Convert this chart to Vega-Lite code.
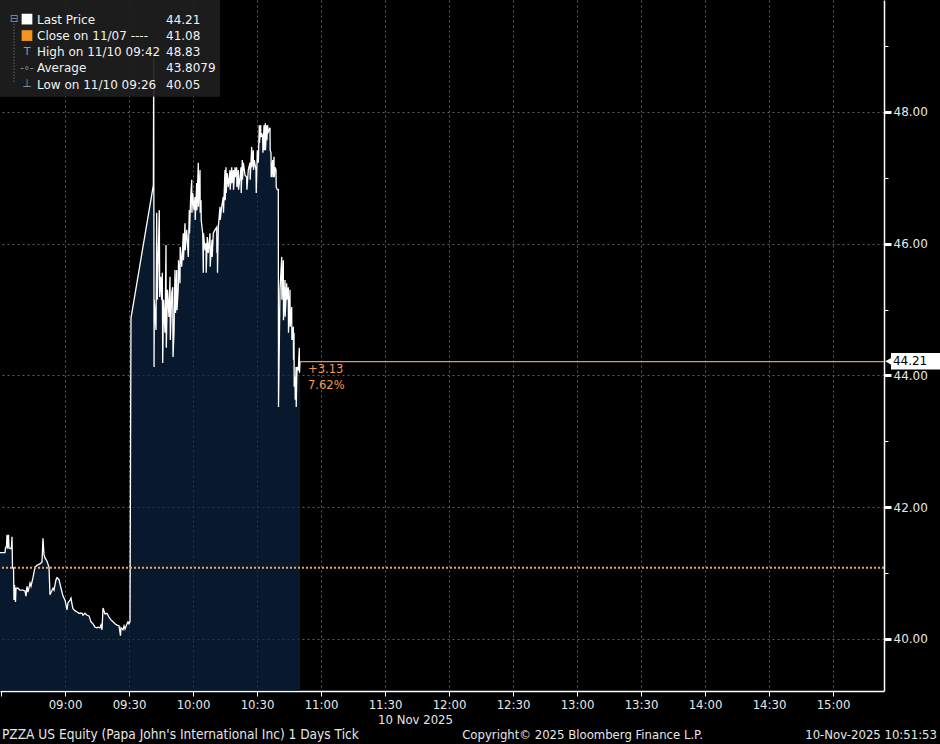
{
  "$schema": "https://vega.github.io/schema/vega-lite/v6.json",
  "width": 884,
  "height": 691,
  "autosize": {"type": "none"},
  "padding": {"left": 0, "top": 0, "right": 56, "bottom": 53},
  "background": "#000000",
  "config": {
    "view": {"stroke": null},
    "axis": {
      "domainColor": "#ffffff",
      "domainWidth": 1.5,
      "tickColor": "#ffffff",
      "labelColor": "#e6e6e6",
      "gridColor": "#5e5e5e",
      "gridDash": [2, 3],
      "zindex": 1
    }
  },
  "datasets": {
    "one": [{}],
    "price": [
      {"t": "2025-11-10T08:29:32", "p": 41.31},
      {"t": "2025-11-10T08:31:53", "p": 41.31},
      {"t": "2025-11-10T08:32:07", "p": 41.38},
      {"t": "2025-11-10T08:32:35", "p": 41.41},
      {"t": "2025-11-10T08:32:49", "p": 41.58},
      {"t": "2025-11-10T08:33:03", "p": 41.37},
      {"t": "2025-11-10T08:33:31", "p": 41.58},
      {"t": "2025-11-10T08:33:45", "p": 41.38},
      {"t": "2025-11-10T08:34:41", "p": 41.37},
      {"t": "2025-11-10T08:34:55", "p": 41.40},
      {"t": "2025-11-10T08:35:10", "p": 41.55},
      {"t": "2025-11-10T08:35:24", "p": 41.08},
      {"t": "2025-11-10T08:35:52", "p": 41.08},
      {"t": "2025-11-10T08:36:06", "p": 40.59},
      {"t": "2025-11-10T08:36:20", "p": 40.82},
      {"t": "2025-11-10T08:36:48", "p": 40.56},
      {"t": "2025-11-10T08:37:02", "p": 40.77},
      {"t": "2025-11-10T08:37:58", "p": 40.77},
      {"t": "2025-11-10T08:38:55", "p": 40.74},
      {"t": "2025-11-10T08:40:19", "p": 40.74},
      {"t": "2025-11-10T08:41:15", "p": 40.73},
      {"t": "2025-11-10T08:41:43", "p": 40.65},
      {"t": "2025-11-10T08:42:11", "p": 40.80},
      {"t": "2025-11-10T08:42:40", "p": 40.71},
      {"t": "2025-11-10T08:43:36", "p": 40.85},
      {"t": "2025-11-10T08:44:04", "p": 40.80},
      {"t": "2025-11-10T08:45:00", "p": 40.93},
      {"t": "2025-11-10T08:45:56", "p": 41.09},
      {"t": "2025-11-10T08:46:53", "p": 41.12},
      {"t": "2025-11-10T08:48:17", "p": 41.14},
      {"t": "2025-11-10T08:49:13", "p": 41.17},
      {"t": "2025-11-10T08:49:41", "p": 41.53},
      {"t": "2025-11-10T08:50:10", "p": 41.28},
      {"t": "2025-11-10T08:50:38", "p": 41.23},
      {"t": "2025-11-10T08:51:34", "p": 41.18},
      {"t": "2025-11-10T08:52:30", "p": 41.09},
      {"t": "2025-11-10T08:52:58", "p": 40.67},
      {"t": "2025-11-10T08:53:55", "p": 40.74},
      {"t": "2025-11-10T08:54:23", "p": 40.77},
      {"t": "2025-11-10T08:54:51", "p": 40.74},
      {"t": "2025-11-10T08:55:47", "p": 40.90},
      {"t": "2025-11-10T08:56:15", "p": 40.93},
      {"t": "2025-11-10T08:57:11", "p": 40.90},
      {"t": "2025-11-10T08:58:08", "p": 40.77},
      {"t": "2025-11-10T08:59:04", "p": 40.65},
      {"t": "2025-11-10T09:00:00", "p": 40.59},
      {"t": "2025-11-10T09:00:28", "p": 40.52},
      {"t": "2025-11-10T09:00:56", "p": 40.44},
      {"t": "2025-11-10T09:01:25", "p": 40.55},
      {"t": "2025-11-10T09:02:21", "p": 40.59},
      {"t": "2025-11-10T09:02:49", "p": 40.62},
      {"t": "2025-11-10T09:03:17", "p": 40.53},
      {"t": "2025-11-10T09:03:45", "p": 40.46},
      {"t": "2025-11-10T09:04:41", "p": 40.43},
      {"t": "2025-11-10T09:05:38", "p": 40.41},
      {"t": "2025-11-10T09:06:34", "p": 40.39},
      {"t": "2025-11-10T09:07:58", "p": 40.39},
      {"t": "2025-11-10T09:08:26", "p": 40.36},
      {"t": "2025-11-10T09:09:23", "p": 40.39},
      {"t": "2025-11-10T09:10:19", "p": 40.36},
      {"t": "2025-11-10T09:11:15", "p": 40.35},
      {"t": "2025-11-10T09:12:11", "p": 40.26},
      {"t": "2025-11-10T09:13:08", "p": 40.23},
      {"t": "2025-11-10T09:14:04", "p": 40.18},
      {"t": "2025-11-10T09:15:00", "p": 40.17},
      {"t": "2025-11-10T09:15:28", "p": 40.18},
      {"t": "2025-11-10T09:16:25", "p": 40.17},
      {"t": "2025-11-10T09:16:53", "p": 40.21},
      {"t": "2025-11-10T09:17:21", "p": 40.14},
      {"t": "2025-11-10T09:17:49", "p": 40.47},
      {"t": "2025-11-10T09:18:45", "p": 40.38},
      {"t": "2025-11-10T09:19:41", "p": 40.39},
      {"t": "2025-11-10T09:20:38", "p": 40.33},
      {"t": "2025-11-10T09:21:34", "p": 40.29},
      {"t": "2025-11-10T09:22:30", "p": 40.26},
      {"t": "2025-11-10T09:23:26", "p": 40.23},
      {"t": "2025-11-10T09:24:23", "p": 40.21},
      {"t": "2025-11-10T09:25:19", "p": 40.20},
      {"t": "2025-11-10T09:26:00", "p": 40.05},
      {"t": "2025-11-10T09:26:15", "p": 40.17},
      {"t": "2025-11-10T09:27:11", "p": 40.14},
      {"t": "2025-11-10T09:27:40", "p": 40.20},
      {"t": "2025-11-10T09:28:08", "p": 40.15},
      {"t": "2025-11-10T09:29:04", "p": 40.23},
      {"t": "2025-11-10T09:29:32", "p": 40.26},
      {"t": "2025-11-10T09:30:00", "p": 40.23},
      {"t": "2025-11-10T09:30:28", "p": 40.26},
      {"t": "2025-11-10T09:30:56", "p": 44.87},
      {"t": "2025-11-10T09:41:25", "p": 46.89},
      {"t": "2025-11-10T09:41:35", "p": 48.83},
      {"t": "2025-11-10T09:41:45", "p": 44.13},
      {"t": "2025-11-10T09:41:52", "p": 45.15},
      {"t": "2025-11-10T09:42:40", "p": 44.69},
      {"t": "2025-11-10T09:42:59", "p": 46.47},
      {"t": "2025-11-10T09:43:16", "p": 45.15},
      {"t": "2025-11-10T09:44:12", "p": 46.51},
      {"t": "2025-11-10T09:44:24", "p": 45.19},
      {"t": "2025-11-10T09:44:52", "p": 45.50},
      {"t": "2025-11-10T09:45:20", "p": 45.15},
      {"t": "2025-11-10T09:45:37", "p": 45.56},
      {"t": "2025-11-10T09:45:48", "p": 44.19},
      {"t": "2025-11-10T09:46:11", "p": 45.15},
      {"t": "2025-11-10T09:46:53", "p": 44.65},
      {"t": "2025-11-10T09:47:21", "p": 45.98},
      {"t": "2025-11-10T09:47:29", "p": 44.42},
      {"t": "2025-11-10T09:48:03", "p": 45.30},
      {"t": "2025-11-10T09:48:45", "p": 44.89},
      {"t": "2025-11-10T09:49:13", "p": 45.50},
      {"t": "2025-11-10T09:49:22", "p": 44.54},
      {"t": "2025-11-10T09:50:01", "p": 45.25},
      {"t": "2025-11-10T09:50:29", "p": 45.34},
      {"t": "2025-11-10T09:50:38", "p": 44.28},
      {"t": "2025-11-10T09:51:06", "p": 44.65},
      {"t": "2025-11-10T09:51:34", "p": 45.60},
      {"t": "2025-11-10T09:51:48", "p": 44.95},
      {"t": "2025-11-10T09:52:22", "p": 45.60},
      {"t": "2025-11-10T09:52:30", "p": 44.99},
      {"t": "2025-11-10T09:53:07", "p": 45.34},
      {"t": "2025-11-10T09:53:12", "p": 45.75},
      {"t": "2025-11-10T09:53:55", "p": 45.40},
      {"t": "2025-11-10T09:54:00", "p": 45.95},
      {"t": "2025-11-10T09:54:42", "p": 45.65},
      {"t": "2025-11-10T09:55:27", "p": 46.16},
      {"t": "2025-11-10T09:55:33", "p": 45.75},
      {"t": "2025-11-10T09:56:15", "p": 46.31},
      {"t": "2025-11-10T09:56:21", "p": 45.90},
      {"t": "2025-11-10T09:57:03", "p": 46.21},
      {"t": "2025-11-10T09:57:48", "p": 45.80},
      {"t": "2025-11-10T09:58:16", "p": 46.51},
      {"t": "2025-11-10T09:58:22", "p": 46.16},
      {"t": "2025-11-10T09:58:55", "p": 46.71},
      {"t": "2025-11-10T09:59:24", "p": 46.97},
      {"t": "2025-11-10T09:59:29", "p": 46.47},
      {"t": "2025-11-10T09:59:52", "p": 46.77},
      {"t": "2025-11-10T10:00:28", "p": 46.51},
      {"t": "2025-11-10T10:00:56", "p": 46.71},
      {"t": "2025-11-10T10:01:02", "p": 46.36},
      {"t": "2025-11-10T10:01:44", "p": 46.92},
      {"t": "2025-11-10T10:01:50", "p": 46.51},
      {"t": "2025-11-10T10:02:29", "p": 47.23},
      {"t": "2025-11-10T10:02:35", "p": 46.56},
      {"t": "2025-11-10T10:03:17", "p": 47.12},
      {"t": "2025-11-10T10:03:23", "p": 46.47},
      {"t": "2025-11-10T10:03:45", "p": 46.66},
      {"t": "2025-11-10T10:03:51", "p": 46.36},
      {"t": "2025-11-10T10:04:33", "p": 46.16},
      {"t": "2025-11-10T10:04:50", "p": 45.56},
      {"t": "2025-11-10T10:04:55", "p": 46.16},
      {"t": "2025-11-10T10:05:38", "p": 45.90},
      {"t": "2025-11-10T10:06:06", "p": 46.01},
      {"t": "2025-11-10T10:06:11", "p": 45.56},
      {"t": "2025-11-10T10:06:42", "p": 46.10},
      {"t": "2025-11-10T10:07:10", "p": 45.86},
      {"t": "2025-11-10T10:07:58", "p": 46.16},
      {"t": "2025-11-10T10:08:04", "p": 45.65},
      {"t": "2025-11-10T10:08:26", "p": 45.86},
      {"t": "2025-11-10T10:08:55", "p": 46.06},
      {"t": "2025-11-10T10:09:00", "p": 45.80},
      {"t": "2025-11-10T10:09:31", "p": 46.16},
      {"t": "2025-11-10T10:10:19", "p": 46.21},
      {"t": "2025-11-10T10:11:07", "p": 46.25},
      {"t": "2025-11-10T10:11:12", "p": 45.86},
      {"t": "2025-11-10T10:11:24", "p": 46.06},
      {"t": "2025-11-10T10:11:29", "p": 45.56},
      {"t": "2025-11-10T10:11:52", "p": 46.25},
      {"t": "2025-11-10T10:12:40", "p": 46.56},
      {"t": "2025-11-10T10:12:45", "p": 46.36},
      {"t": "2025-11-10T10:13:27", "p": 46.56},
      {"t": "2025-11-10T10:14:12", "p": 46.71},
      {"t": "2025-11-10T10:14:18", "p": 46.47},
      {"t": "2025-11-10T10:15:00", "p": 47.12},
      {"t": "2025-11-10T10:15:06", "p": 46.66},
      {"t": "2025-11-10T10:15:28", "p": 47.16},
      {"t": "2025-11-10T10:15:34", "p": 46.77},
      {"t": "2025-11-10T10:16:05", "p": 47.07},
      {"t": "2025-11-10T10:16:33", "p": 46.86},
      {"t": "2025-11-10T10:17:21", "p": 47.12},
      {"t": "2025-11-10T10:17:26", "p": 46.82},
      {"t": "2025-11-10T10:18:09", "p": 47.16},
      {"t": "2025-11-10T10:18:14", "p": 46.92},
      {"t": "2025-11-10T10:18:54", "p": 47.12},
      {"t": "2025-11-10T10:18:59", "p": 46.82},
      {"t": "2025-11-10T10:19:41", "p": 47.16},
      {"t": "2025-11-10T10:19:47", "p": 47.01},
      {"t": "2025-11-10T10:20:29", "p": 47.16},
      {"t": "2025-11-10T10:20:35", "p": 46.86},
      {"t": "2025-11-10T10:21:14", "p": 47.12},
      {"t": "2025-11-10T10:21:20", "p": 46.82},
      {"t": "2025-11-10T10:22:02", "p": 47.01},
      {"t": "2025-11-10T10:22:30", "p": 47.16},
      {"t": "2025-11-10T10:22:36", "p": 46.77},
      {"t": "2025-11-10T10:23:07", "p": 47.27},
      {"t": "2025-11-10T10:23:12", "p": 46.97},
      {"t": "2025-11-10T10:23:35", "p": 47.23},
      {"t": "2025-11-10T10:24:23", "p": 47.04},
      {"t": "2025-11-10T10:25:10", "p": 47.01},
      {"t": "2025-11-10T10:25:16", "p": 46.82},
      {"t": "2025-11-10T10:25:55", "p": 47.12},
      {"t": "2025-11-10T10:26:43", "p": 47.23},
      {"t": "2025-11-10T10:26:49", "p": 46.97},
      {"t": "2025-11-10T10:27:31", "p": 47.47},
      {"t": "2025-11-10T10:27:37", "p": 47.16},
      {"t": "2025-11-10T10:28:16", "p": 47.42},
      {"t": "2025-11-10T10:28:22", "p": 47.12},
      {"t": "2025-11-10T10:28:44", "p": 47.27},
      {"t": "2025-11-10T10:29:32", "p": 47.12},
      {"t": "2025-11-10T10:29:38", "p": 46.77},
      {"t": "2025-11-10T10:30:09", "p": 47.42},
      {"t": "2025-11-10T10:30:37", "p": 47.23},
      {"t": "2025-11-10T10:31:05", "p": 47.80},
      {"t": "2025-11-10T10:31:10", "p": 47.53},
      {"t": "2025-11-10T10:31:44", "p": 47.80},
      {"t": "2025-11-10T10:31:50", "p": 47.62},
      {"t": "2025-11-10T10:32:12", "p": 47.68},
      {"t": "2025-11-10T10:32:40", "p": 47.62},
      {"t": "2025-11-10T10:32:46", "p": 47.38},
      {"t": "2025-11-10T10:33:17", "p": 47.80},
      {"t": "2025-11-10T10:33:23", "p": 47.42},
      {"t": "2025-11-10T10:33:54", "p": 47.83},
      {"t": "2025-11-10T10:33:59", "p": 47.42},
      {"t": "2025-11-10T10:34:33", "p": 47.80},
      {"t": "2025-11-10T10:34:39", "p": 47.57},
      {"t": "2025-11-10T10:35:01", "p": 47.80},
      {"t": "2025-11-10T10:35:10", "p": 47.68},
      {"t": "2025-11-10T10:35:38", "p": 47.73},
      {"t": "2025-11-10T10:36:06", "p": 47.76},
      {"t": "2025-11-10T10:36:11", "p": 47.42},
      {"t": "2025-11-10T10:36:34", "p": 47.38},
      {"t": "2025-11-10T10:36:40", "p": 47.01},
      {"t": "2025-11-10T10:37:22", "p": 47.27},
      {"t": "2025-11-10T10:37:27", "p": 47.01},
      {"t": "2025-11-10T10:37:58", "p": 47.32},
      {"t": "2025-11-10T10:38:04", "p": 47.01},
      {"t": "2025-11-10T10:38:26", "p": 47.16},
      {"t": "2025-11-10T10:38:55", "p": 47.12},
      {"t": "2025-11-10T10:39:00", "p": 46.86},
      {"t": "2025-11-10T10:39:31", "p": 46.82},
      {"t": "2025-11-10T10:39:59", "p": 46.82},
      {"t": "2025-11-10T10:40:05", "p": 43.52},
      {"t": "2025-11-10T10:40:47", "p": 45.30},
      {"t": "2025-11-10T10:41:35", "p": 45.80},
      {"t": "2025-11-10T10:41:40", "p": 45.15},
      {"t": "2025-11-10T10:42:20", "p": 45.75},
      {"t": "2025-11-10T10:42:25", "p": 44.84},
      {"t": "2025-11-10T10:43:08", "p": 45.45},
      {"t": "2025-11-10T10:43:13", "p": 44.89},
      {"t": "2025-11-10T10:43:55", "p": 45.40},
      {"t": "2025-11-10T10:44:01", "p": 45.15},
      {"t": "2025-11-10T10:44:40", "p": 45.34},
      {"t": "2025-11-10T10:44:46", "p": 44.65},
      {"t": "2025-11-10T10:45:28", "p": 45.30},
      {"t": "2025-11-10T10:45:34", "p": 44.74},
      {"t": "2025-11-10T10:46:16", "p": 45.04},
      {"t": "2025-11-10T10:46:22", "p": 44.54},
      {"t": "2025-11-10T10:47:01", "p": 44.74},
      {"t": "2025-11-10T10:47:07", "p": 44.24},
      {"t": "2025-11-10T10:47:21", "p": 44.65},
      {"t": "2025-11-10T10:47:26", "p": 43.83},
      {"t": "2025-11-10T10:47:49", "p": 43.98},
      {"t": "2025-11-10T10:47:55", "p": 43.63},
      {"t": "2025-11-10T10:48:17", "p": 44.13},
      {"t": "2025-11-10T10:48:23", "p": 43.52},
      {"t": "2025-11-10T10:48:37", "p": 43.93},
      {"t": "2025-11-10T10:48:45", "p": 44.13},
      {"t": "2025-11-10T10:49:22", "p": 44.08},
      {"t": "2025-11-10T10:49:50", "p": 44.42},
      {"t": "2025-11-10T10:49:55", "p": 44.04},
      {"t": "2025-11-10T10:50:10", "p": 44.21}
    ]
  },
  "layer": [
    {
      "data": {"name": "price"},
      "mark": {"type": "area", "clip": true, "color": "#0b2240", "line": {"color": "#ffffff", "strokeWidth": 1.3}, "interpolate": "linear"},
      "encoding": {
        "x": {
          "field": "t",
          "type": "temporal",
          "scale": {
            "nice": false,
            "domain": [
              {"year": 2025, "month": 11, "date": 10, "hours": 8, "minutes": 29, "seconds": 32},
              {"year": 2025, "month": 11, "date": 10, "hours": 15, "minutes": 23, "seconds": 54}
            ]
          },
          "axis": {
            "title": "10 Nov 2025",
            "titleFont": "Liberation Sans Narrow, DejaVu Sans Condensed, Liberation Sans",
            "titleFontSize": 13,
            "titleFontWeight": "normal",
            "titleColor": "#e6e6e6",
            "titleX": 415,
            "titleY": 22,
            "titleBaseline": "top",
            "titleAlign": "center",
            "labelFont": "Liberation Sans Narrow, DejaVu Sans Condensed, Liberation Sans",
            "labelFontSize": 13,
            "labelPadding": 2,
            "labelOverlap": false,
            "labelFlush": false,
            "tickSize": 5,
            "tickWidth": 1,
            "values": [
              {"year": 2025, "month": 11, "date": 10, "hours": 8, "minutes": 30},
              {"year": 2025, "month": 11, "date": 10, "hours": 8, "minutes": 45},
              {"year": 2025, "month": 11, "date": 10, "hours": 9, "minutes": 0},
              {"year": 2025, "month": 11, "date": 10, "hours": 9, "minutes": 15},
              {"year": 2025, "month": 11, "date": 10, "hours": 9, "minutes": 30},
              {"year": 2025, "month": 11, "date": 10, "hours": 9, "minutes": 45},
              {"year": 2025, "month": 11, "date": 10, "hours": 10, "minutes": 0},
              {"year": 2025, "month": 11, "date": 10, "hours": 10, "minutes": 15},
              {"year": 2025, "month": 11, "date": 10, "hours": 10, "minutes": 30},
              {"year": 2025, "month": 11, "date": 10, "hours": 10, "minutes": 45},
              {"year": 2025, "month": 11, "date": 10, "hours": 11, "minutes": 0},
              {"year": 2025, "month": 11, "date": 10, "hours": 11, "minutes": 15},
              {"year": 2025, "month": 11, "date": 10, "hours": 11, "minutes": 30},
              {"year": 2025, "month": 11, "date": 10, "hours": 11, "minutes": 45},
              {"year": 2025, "month": 11, "date": 10, "hours": 12, "minutes": 0},
              {"year": 2025, "month": 11, "date": 10, "hours": 12, "minutes": 15},
              {"year": 2025, "month": 11, "date": 10, "hours": 12, "minutes": 30},
              {"year": 2025, "month": 11, "date": 10, "hours": 12, "minutes": 45},
              {"year": 2025, "month": 11, "date": 10, "hours": 13, "minutes": 0},
              {"year": 2025, "month": 11, "date": 10, "hours": 13, "minutes": 15},
              {"year": 2025, "month": 11, "date": 10, "hours": 13, "minutes": 30},
              {"year": 2025, "month": 11, "date": 10, "hours": 13, "minutes": 45},
              {"year": 2025, "month": 11, "date": 10, "hours": 14, "minutes": 0},
              {"year": 2025, "month": 11, "date": 10, "hours": 14, "minutes": 15},
              {"year": 2025, "month": 11, "date": 10, "hours": 14, "minutes": 30},
              {"year": 2025, "month": 11, "date": 10, "hours": 14, "minutes": 45},
              {"year": 2025, "month": 11, "date": 10, "hours": 15, "minutes": 0},
              {"year": 2025, "month": 11, "date": 10, "hours": 15, "minutes": 15}
            ],
            "labelExpr": "(minutes(datum.value) % 30 === 0 && hours(datum.value) >= 9) ? timeFormat(datum.value, '%H:%M') : ''",
            "gridOpacity": {"condition": {"test": "minutes(datum.value) % 30 === 0 && hours(datum.value) >= 9", "value": 1}, "value": 0}
          }
        },
        "y": {
          "field": "p",
          "type": "quantitative",
          "scale": {"domain": [39.21, 49.7], "zero": false, "nice": false},
          "axis": {
            "orient": "right",
            "title": null,
            "values": [40, 41, 42, 43, 44, 45, 46, 47, 48, 49],
            "labelExpr": "datum.value % 2 === 0 ? format(datum.value, '.2f') : ''",
            "labelFont": "DejaVu Sans",
            "labelFontSize": 12,
            "labelPadding": 2,
            "labelBaseline": "middle",
            "tickSize": {"condition": {"test": "datum.value % 2 === 0", "value": 7}, "value": 4},
            "tickWidth": {"condition": {"test": "datum.value % 2 === 0", "value": 3}, "value": 1},
            "gridOpacity": {"condition": {"test": "datum.value % 2 === 0", "value": 1}, "value": 0}
          }
        }
      }
    },
    {
      "data": {"name": "one"},
      "mark": {"type": "rule", "color": "#f2a36b", "strokeWidth": 2, "strokeDash": [2, 2]},
      "encoding": {"y": {"datum": 41.08, "type": "quantitative"}}
    },
    {
      "data": {"name": "one"},
      "mark": {"type": "rule", "color": "#e8956a", "strokeWidth": 1.2},
      "encoding": {
        "x": {"datum": {"year": 2025, "month": 11, "date": 10, "hours": 10, "minutes": 50, "seconds": 10}, "type": "temporal"},
        "x2": {"datum": {"year": 2025, "month": 11, "date": 10, "hours": 15, "minutes": 23, "seconds": 54}},
        "y": {"datum": 44.21, "type": "quantitative"}
      }
    },
    {
      "data": {"name": "one"},
      "mark": {"type": "text", "text": ["+3.13", "7.62%"], "lineHeight": 16, "align": "left", "baseline": "top", "dx": 8, "dy": 2, "color": "#f39a52", "font": "DejaVu Sans", "fontSize": 11.5},
      "encoding": {
        "x": {"datum": {"year": 2025, "month": 11, "date": 10, "hours": 10, "minutes": 50, "seconds": 10}, "type": "temporal"},
        "y": {"datum": 44.21, "type": "quantitative"}
      }
    },
    {
      "data": {"name": "one"},
      "mark": {"type": "rect", "color": "#1e1e1e", "opacity": 0.92},
      "encoding": {
        "x": {"datum": {"year": 2025, "month": 11, "date": 10, "hours": 8, "minutes": 29, "seconds": 32}, "type": "temporal"},
        "x2": {"datum": {"year": 2025, "month": 11, "date": 10, "hours": 10, "minutes": 12, "seconds": 40}},
        "y": {"datum": 49.7, "type": "quantitative"},
        "y2": {"datum": 48.23}
      }
    },
    {
      "data": {"name": "one"},
      "mark": {"type": "rule", "color": "#8a8a8a", "strokeWidth": 1, "strokeDash": [1, 2]},
      "encoding": {
        "x": {"datum": {"year": 2025, "month": 11, "date": 10, "hours": 8, "minutes": 36, "seconds": 6}, "type": "temporal"},
        "y": {"datum": 49.34, "type": "quantitative"},
        "y2": {"datum": 48.43}
      }
    },
    {
      "data": {"name": "one"},
      "mark": {"type": "text", "text": "⊟", "color": "#9a9a9a", "font": "DejaVu Sans", "fontSize": 10, "align": "center", "baseline": "middle"},
      "encoding": {
        "x": {"datum": {"year": 2025, "month": 11, "date": 10, "hours": 8, "minutes": 36, "seconds": 6}, "type": "temporal"},
        "y": {"datum": 49.41, "type": "quantitative"}
      }
    },
    {
      "data": {"name": "one"},
      "mark": {"type": "point", "shape": "square", "filled": true, "size": 115, "opacity": 1, "color": "#ffffff"},
      "encoding": {
        "x": {"datum": {"year": 2025, "month": 11, "date": 10, "hours": 8, "minutes": 42, "seconds": 11}, "type": "temporal"},
        "y": {"datum": 49.41, "type": "quantitative"}
      }
    },
    {
      "data": {"name": "one"},
      "mark": {"type": "point", "shape": "square", "filled": true, "size": 115, "opacity": 1, "color": "#f5951f"},
      "encoding": {
        "x": {"datum": {"year": 2025, "month": 11, "date": 10, "hours": 8, "minutes": 42, "seconds": 11}, "type": "temporal"},
        "y": {"datum": 49.16, "type": "quantitative"}
      }
    },
    {
      "data": {"name": "one"},
      "mark": {"type": "text", "text": "T", "align": "center", "baseline": "middle", "color": "#9a9a9a", "font": "DejaVu Sans", "fontSize": 11},
      "encoding": {
        "x": {"datum": {"year": 2025, "month": 11, "date": 10, "hours": 8, "minutes": 42, "seconds": 11}, "type": "temporal"},
        "y": {"datum": 48.91, "type": "quantitative"}
      }
    },
    {
      "data": {"name": "one"},
      "mark": {"type": "text", "text": "-∘-", "align": "center", "baseline": "middle", "color": "#9a9a9a", "font": "DejaVu Sans", "fontSize": 10},
      "encoding": {
        "x": {"datum": {"year": 2025, "month": 11, "date": 10, "hours": 8, "minutes": 42, "seconds": 11}, "type": "temporal"},
        "y": {"datum": 48.67, "type": "quantitative"}
      }
    },
    {
      "data": {"name": "one"},
      "mark": {"type": "text", "text": "⊥", "align": "center", "baseline": "middle", "color": "#9a9a9a", "font": "DejaVu Sans", "fontSize": 11},
      "encoding": {
        "x": {"datum": {"year": 2025, "month": 11, "date": 10, "hours": 8, "minutes": 42, "seconds": 11}, "type": "temporal"},
        "y": {"datum": 48.42, "type": "quantitative"}
      }
    },
    {
      "data": {"name": "one"},
      "mark": {"type": "text", "text": ["Last Price", "Close on 11/07 ----", "High on 11/10 09:42", "Average", "Low on 11/10 09:26"], "lineHeight": 16.3, "align": "left", "baseline": "alphabetic", "color": "#f2f2f2", "font": "DejaVu Sans", "fontSize": 12},
      "encoding": {
        "x": {"datum": {"year": 2025, "month": 11, "date": 10, "hours": 8, "minutes": 46, "seconds": 53}, "type": "temporal"},
        "y": {"datum": 49.343, "type": "quantitative"}
      }
    },
    {
      "data": {"name": "one"},
      "mark": {"type": "text", "text": ["44.21", "41.08", "48.83", "43.8079", "40.05"], "lineHeight": 16.3, "align": "left", "baseline": "alphabetic", "color": "#f2f2f2", "font": "DejaVu Sans", "fontSize": 12},
      "encoding": {
        "x": {"datum": {"year": 2025, "month": 11, "date": 10, "hours": 9, "minutes": 47, "seconds": 21}, "type": "temporal"},
        "y": {"datum": 49.343, "type": "quantitative"}
      }
    },
    {
      "data": {"name": "one"},
      "mark": {"type": "rect", "color": "#ffffff"},
      "encoding": {
        "x": {"datum": {"year": 2025, "month": 11, "date": 10, "hours": 15, "minutes": 27, "seconds": 11}, "type": "temporal"},
        "x2": {"datum": {"year": 2025, "month": 11, "date": 10, "hours": 15, "minutes": 50, "seconds": 10}},
        "y": {"datum": 44.34, "type": "quantitative"},
        "y2": {"datum": 44.09}
      }
    },
    {
      "data": {"name": "one"},
      "mark": {"type": "point", "shape": "triangle-left", "filled": true, "size": 70, "opacity": 1, "color": "#ffffff"},
      "encoding": {
        "x": {"datum": {"year": 2025, "month": 11, "date": 10, "hours": 15, "minutes": 26, "seconds": 10}, "type": "temporal"},
        "y": {"datum": 44.215, "type": "quantitative"}
      }
    },
    {
      "data": {"name": "one"},
      "mark": {"type": "text", "text": "44.21", "align": "left", "baseline": "middle", "color": "#000000", "font": "DejaVu Sans", "fontSize": 12},
      "encoding": {
        "x": {"datum": {"year": 2025, "month": 11, "date": 10, "hours": 15, "minutes": 28, "seconds": 4}, "type": "temporal"},
        "y": {"datum": 44.215, "type": "quantitative"}
      }
    },
    {
      "data": {"name": "one"},
      "mark": {"type": "text", "text": "PZZA US Equity (Papa John's International Inc) 1 Days Tick", "align": "left", "baseline": "middle", "color": "#e6e6e6", "font": "Liberation Sans Narrow, DejaVu Sans Condensed, Liberation Sans", "fontSize": 13.6},
      "encoding": {
        "x": {"datum": {"year": 2025, "month": 11, "date": 10, "hours": 8, "minutes": 30, "seconds": 28}, "type": "temporal"},
        "y": {"datum": 38.543, "type": "quantitative"}
      }
    },
    {
      "data": {"name": "one"},
      "mark": {"type": "text", "text": "Copyright© 2025 Bloomberg Finance L.P.", "align": "center", "baseline": "middle", "color": "#e6e6e6", "font": "Liberation Sans Narrow, DejaVu Sans Condensed, Liberation Sans", "fontSize": 13},
      "encoding": {
        "x": {"datum": {"year": 2025, "month": 11, "date": 10, "hours": 13, "minutes": 2, "seconds": 35}, "type": "temporal"},
        "y": {"datum": 38.543, "type": "quantitative"}
      }
    },
    {
      "data": {"name": "one"},
      "mark": {"type": "text", "text": "10-Nov-2025 10:51:53", "align": "right", "baseline": "middle", "color": "#e6e6e6", "font": "Liberation Sans Narrow, DejaVu Sans Condensed, Liberation Sans", "fontSize": 13},
      "encoding": {
        "x": {"datum": {"year": 2025, "month": 11, "date": 10, "hours": 15, "minutes": 48, "seconds": 45}, "type": "temporal"},
        "y": {"datum": 38.543, "type": "quantitative"}
      }
    }
  ]
}
